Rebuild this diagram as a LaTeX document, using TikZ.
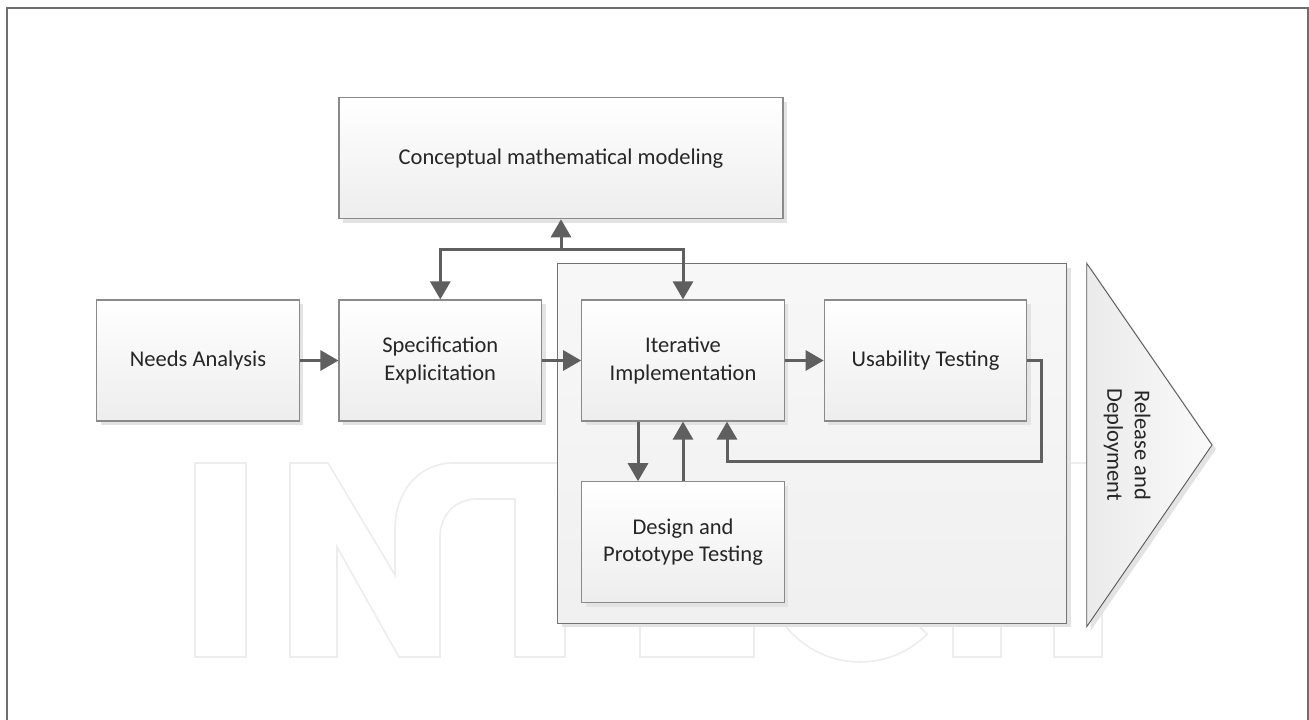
\documentclass[tikz,border=0pt]{standalone}
\usepackage{fontspec}
\setmainfont{Carlito}
\usetikzlibrary{arrows.meta,shadows}
\definecolor{boxline}{HTML}{8A8A8A}
\definecolor{arrowc}{HTML}{5F5F5F}
\definecolor{textc}{HTML}{262626}
\definecolor{shadowc}{HTML}{E3E3E3}
\definecolor{markc}{HTML}{EDEDED}
\definecolor{framec}{HTML}{6E6E6E}
\begin{document}
\begin{tikzpicture}[x=1pt,y=-1pt,
  lowshadow/.style={drop shadow={shadow xshift=4pt,shadow yshift=-4pt,opacity=1,fill=shadowc}},
  stage/.style={draw=boxline,line width=1.2pt,top color=white,bottom color=black!7,
    minimum width=202.5pt,minimum height=121pt,inner sep=0pt,align=center,
    text=textc,font=\fontsize{22.5}{27.5}\selectfont,lowshadow},
  phase/.style={draw=black!55,line width=1pt,top color=black!3,bottom color=black!6,
    inner sep=0pt,lowshadow},
  flow/.style={draw=arrowc,line width=3pt,-{Triangle[length=18pt,width=20pt]}},
  wmark/.style={draw=markc,line width=1.6pt,line join=miter},
]
\useasboundingbox (0,0) rectangle (1309,720);
\fill[white] (0,0) rectangle (1309,720);

% outer frame
\draw[framec,line width=1.6pt] (7,724) -- (7,8) -- (1308,8) -- (1308,724);

% outlined lettering behind the chart
\draw[wmark] (195,463) rectangle (246,657);
\draw[wmark] (290,657) -- (290,463) -- (328,463) -- (395,575) -- (395,530)
  .. controls (395,490) and (420,463) .. (453,463) -- (627,463) -- (627,499)
  -- (565,499) -- (565,657) -- (515,657) -- (515,499) -- (477,499)
  .. controls (455,499) and (440,515) .. (440,537) -- (440,657) -- (399,657)
  -- (337,547) -- (337,657) -- cycle;
\draw[wmark] (640,463) -- (754,463) -- (754,499) -- (688,499) -- (688,542)
  -- (745,542) -- (745,578) -- (688,578) -- (688,621) -- (754,621)
  -- (754,657) -- (640,657) -- cycle;
\draw[wmark] (927.2,499.8) arc[start angle=-45,end angle=-315,radius=95]
  -- (893.2,600.2) arc[start angle=-315,end angle=-45,radius=47] -- cycle;
\draw[wmark] (953,463) -- (1001,463) -- (1001,542) -- (1054,542) -- (1054,463)
  -- (1102,463) -- (1102,657) -- (1054,657) -- (1054,578) -- (1001,578)
  -- (1001,657) -- (953,657) -- cycle;

% implementation phase container
\node[phase,minimum width=509.3pt,minimum height=359.6pt] (impl) at (812.15,443.5) {};

% release chevron
\path[draw=black!65,line width=0.9pt,left color=black!8,right color=black!2,lowshadow]
  (1086.7,263.3) -- (1212,445) -- (1086.7,626.7) -- cycle;
\node[rotate=-90,align=center,text=textc,font=\fontsize{22.5}{27.5}\selectfont]
  (rel) at (1127,445) {Release and\\Deployment};

% process steps
\node[stage] (needs) at (198,360.5) {Needs Analysis};
\node[stage] (spec) at (440.3,360.5) {Specification\\Explicitation};
\node[stage,minimum width=444pt] (concept) at (561,158.2) {Conceptual mathematical modeling};
\node[stage] (iter) at (683,360.5) {Iterative\\Implementation};
\node[stage] (usab) at (925.5,360.5) {Usability Testing};
\node[stage] (design) at (683,542.3) {Design and\\Prototype Testing};

% connectors
\coordinate (jc) at (561,249.3);
\coordinate (fb) at (1041.4,461);
\draw[flow] (needs) -- (spec);
\draw[flow] (spec) -- (iter);
\draw[flow] (iter) -- (usab);
\draw[flow] (jc) -- (concept.south);
\draw[flow] (jc) -| (spec.north);
\draw[flow] (jc) -| (iter.north);
\draw[flow] ([xshift=-45pt]iter.south) -- ([xshift=-45pt]design.north);
\draw[flow] (design.north) -- (iter.south);
\draw[flow] (usab.east) -| (fb) -| ([xshift=44pt]iter.south);
\end{tikzpicture}
\end{document}
